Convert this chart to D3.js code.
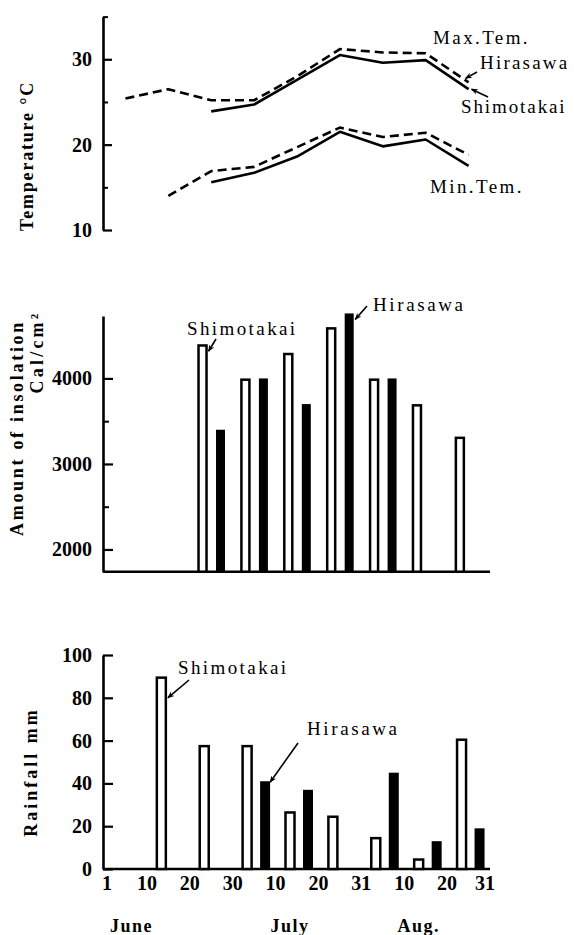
<!DOCTYPE html>
<html><head><meta charset="utf-8">
<script src="https://cdn.jsdelivr.net/npm/d3@7"></script>
<style>
html,body{margin:0;padding:0;background:#fff;}
svg{display:block;}
text{font-family:"Liberation Serif","Times New Roman",serif;fill:#000;}
</style></head><body>
<svg id="c" width="574" height="935"></svg>
<script>
// ---- data (10-day periods, June–August) ----
const dekads = ["Jun-1","Jun-2","Jun-3","Jul-1","Jul-2","Jul-3","Aug-1","Aug-2","Aug-3"];
const tempMaxHirasawa   = [25.4, 26.5, 25.2, 25.2, 28.0, 31.2, 30.8, 30.7, 27.3];
const tempMaxShimotakai = [null, null, 23.9, 24.7, 27.6, 30.5, 29.6, 29.9, 26.5];
const tempMinHirasawa   = [null, 14.0, 16.9, 17.4, 19.7, 22.0, 20.9, 21.4, 18.8];
const tempMinShimotakai = [null, null, 15.6, 16.7, 18.6, 21.5, 19.8, 20.6, 17.5];
const insolShimotakai = [null, null, 4400, 4000, 4300, 4600, 4000, 3700, 3320];
const insolHirasawa   = [null, null, 3400, 4000, 3700, 4760, 4000, null, null];
const rainShimotakai = [null, 90, 58, 58, 27, 25, 15, 5, 61];
const rainHirasawa   = [null, null, null, 41, 37, null, 45, 13, 19];
const tempTicks = [10, 20, 30];
const tempMinorTicks = [15, 25, 35];
const insolTicks = [2000, 3000, 4000];
const insolMinorTicks = [2500, 3500];
const rainTicks = [0, 20, 40, 60, 80, 100];
const dayLabels = ["1","10","20","30","10","20","31","10","20","31"];
const months = ["June","July","Aug."];

// ---- layout ----
const svg = d3.select("#c");
const FONT = '"Liberation Serif","Times New Roman",serif';
const x = d3.scaleBand().domain(dekads).range([104, 490]).padding(0);
const cx = d => x(d) + x.bandwidth() / 2;
const xB = d3.scaleLinear().domain([0, dekads.length]).range(x.range());
const AX = 103;

svg.append("defs").append("marker")
  .attr("id", "ah").attr("viewBox", "0 0 10 10").attr("refX", 9).attr("refY", 5)
  .attr("markerWidth", 7).attr("markerHeight", 7).attr("markerUnits", "userSpaceOnUse")
  .attr("orient", "auto")
  .append("path").attr("d", "M0,1 L10,5 L0,9 L3,5 Z").attr("fill", "#000");

function yAxis(scale, major, minor, majorLen, minorLen) {
  const g = svg.append("g").attr("transform", `translate(${AX},0)`);
  g.call(d3.axisLeft(scale).tickValues(major).tickFormat(d3.format("d"))
    .tickSizeInner(-majorLen).tickSizeOuter(0).tickPadding(11));
  g.select(".domain").attr("stroke-width", 2.6);
  g.selectAll(".tick line").attr("stroke-width", 2.2);
  g.selectAll("text").attr("font-family", FONT).attr("font-size", 20).attr("font-weight", "bold");
  if (minor.length) {
    const m = svg.append("g").attr("transform", `translate(${AX},0)`);
    m.call(d3.axisLeft(scale).tickValues(minor).tickSizeInner(-minorLen).tickSizeOuter(0).tickFormat(""));
    m.select(".domain").remove();
    m.selectAll(".tick line").attr("stroke-width", 2);
  }
}
function label(t, px, py, opts = {}) {
  const el = svg.append("text").attr("x", px).attr("y", py).text(t)
    .attr("font-size", opts.size || 19).attr("letter-spacing", opts.ls == null ? 2.4 : opts.ls)
    .attr("font-weight", opts.weight || "normal");
  if (opts.anchor) el.attr("text-anchor", opts.anchor);
  return el;
}
function vlabel(t, px, py, ls) {
  svg.append("text").attr("transform", `translate(${px},${py}) rotate(-90)`)
    .attr("text-anchor", "middle").attr("font-size", 18).attr("font-weight", "bold")
    .attr("letter-spacing", ls).text(t);
}
function arrow(x1, y1, x2, y2) {
  svg.append("line").attr("x1", x1).attr("y1", y1).attr("x2", x2).attr("y2", y2)
    .attr("stroke", "#000").attr("stroke-width", 1.6).attr("marker-end", "url(#ah)");
}

// ---- Temperature panel ----
const yT = d3.scaleLinear().domain([10, 35]).range([230, 16.6]);
yAxis(yT, tempTicks, tempMinorTicks, 9, 5);
const line = d3.line().defined(d => d.v != null).x(d => cx(d.k)).y(d => yT(d.v));
const series = (arr) => dekads.map((k, i) => ({k, v: arr[i]}));
[[tempMaxHirasawa, true], [tempMaxShimotakai, false], [tempMinHirasawa, true], [tempMinShimotakai, false]]
  .forEach(([arr, dashed]) => {
    svg.append("path").datum(series(arr)).attr("d", line)
      .attr("fill", "none").attr("stroke", "#000").attr("stroke-width", 2.6)
      .attr("stroke-linejoin", "round")
      .attr("stroke-dasharray", dashed ? "9,5" : null);
  });
const last = dekads[dekads.length - 1];
label("Max.Tem.", 433, 44);
label("Hirasawa", 480, 69, {ls: 2.2});
label("Shimotakai", 461, 113, {ls: 1.9});
label("Min.Tem.", 430, 193);
arrow(477, 72, cx(last) - 3, yT(tempMaxHirasawa[8]) - 4);
arrow(488, 97, cx(last) + 3, yT(tempMaxShimotakai[8]));
vlabel("Temperature °C", 33, 156, 1.8);

// ---- Insolation panel ----
const yI = d3.scaleLinear().domain([1740, 4730]).range([571.7, 316]);
yAxis(yI, insolTicks, insolMinorTicks, 10, 6);
svg.append("line").attr("x1", AX).attr("x2", 490).attr("y1", yI(1740)).attr("y2", yI(1740))
  .attr("stroke", "#000").attr("stroke-width", 2.6);
function bars(arr, yS, base, offset, w, filled) {
  svg.append("g").selectAll("rect")
    .data(dekads.map((k, i) => ({k, v: arr[i]})).filter(d => d.v != null))
    .join("rect")
    .attr("x", d => cx(d.k) + offset - w / 2 + (filled ? 0 : 1.25))
    .attr("width", filled ? w : w - 2.5)
    .attr("y", d => yS(d.v) + (filled ? 0 : 1.25))
    .attr("height", d => yS(base) - yS(d.v) - (filled ? 0 : 1.25))
    .attr("fill", filled ? "#000" : "#fff")
    .attr("stroke", filled ? "none" : "#000").attr("stroke-width", 2.5);
}
bars(insolShimotakai, yI, 1740, -8.7, 10.5, false);
bars(insolHirasawa, yI, 1740, 9.3, 9, true);
label("Shimotakai", 187, 335);
label("Hirasawa", 373, 311, {ls: 2.6});
arrow(216, 339, cx(dekads[2]) - 8.7 + 6, yI(insolShimotakai[2]) + 7);
arrow(367, 306, cx(dekads[5]) + 9.3 + 6, yI(insolHirasawa[5]) + 6);
vlabel("Amount of insolation", 23, 428, 2.7);
vlabel("Cal/cm²", 43, 352, 3.2);

// ---- Rainfall panel ----
const yR = d3.scaleLinear().domain([0, 100]).range([869, 655]);
yAxis(yR, rainTicks, [], 10, 0);
svg.append("line").attr("x1", AX).attr("x2", 490).attr("y1", yR(0)).attr("y2", yR(0))
  .attr("stroke", "#000").attr("stroke-width", 2.6);
bars(rainShimotakai, yR, 0, -7, 11.5, false);
bars(rainHirasawa, yR, 0, 11, 10, true);
label("Shimotakai", 178, 674);
label("Hirasawa", 307, 735, {ls: 2.6});
arrow(189, 680, cx(dekads[1]) - 7 + 6.5, yR(80));
arrow(298, 743, cx(dekads[3]) + 11 + 5, yR(rainHirasawa[3]) + 1);
vlabel("Rainfall mm", 36.5, 772, 3);

// x tick labels (period boundaries) and months
svg.append("g").selectAll("text").data(dayLabels).join("text")
  .attr("x", (d, i) => xB(i) + (i === 0 ? 3 : i === dayLabels.length - 1 ? -5 : 0))
  .attr("y", 890).attr("text-anchor", "middle")
  .attr("font-size", 20).attr("font-weight", "bold").text(d => d);
const monthX = [cx(dekads[0]) + 6, cx(dekads[4]) - 7, cx(dekads[7]) - 7];
svg.append("g").selectAll("text").data(months).join("text")
  .attr("x", (d, i) => monthX[i]).attr("y", 932).attr("text-anchor", "middle")
  .attr("font-size", 18).attr("font-weight", "bold").attr("letter-spacing", 1.5).text(d => d);
</script>
</body></html>
